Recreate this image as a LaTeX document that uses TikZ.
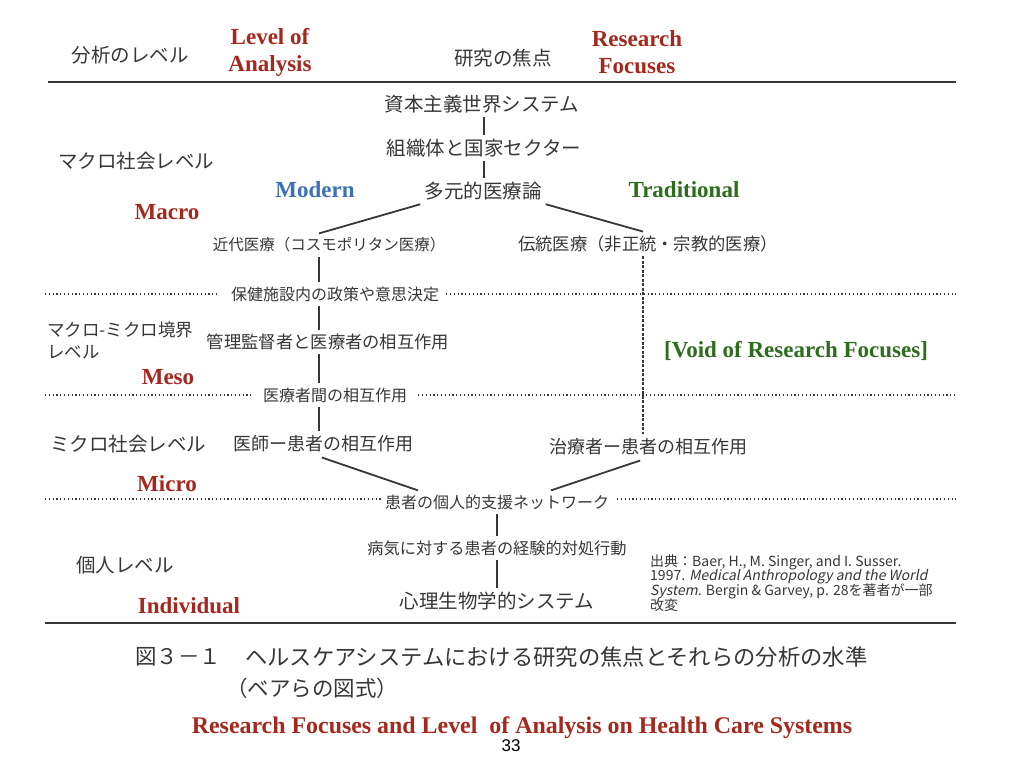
\documentclass[tikz,border=0pt]{standalone}
\usepackage{fontspec}
\setmainfont{Liberation Serif}
\newfontfamily\jp{Noto Sans CJK JP}
\newfontfamily\jpit[FakeSlant=0.2]{Noto Sans CJK JP}
\newfontfamily\numfont{Liberation Sans}
\definecolor{redlab}{RGB}{165,40,30}
\definecolor{bluelab}{RGB}{60,112,184}
\definecolor{greenlab}{RGB}{46,108,30}
\definecolor{ink}{RGB}{55,55,55}
\begin{document}
\begin{tikzpicture}[x=1pt,y=-1pt,
  jpbig/.style={font=\jp\fontsize{19.5}{22}\selectfont, text=ink, inner xsep=4pt, inner ysep=4pt},
  jpsmall/.style={font=\jp\fontsize{#1}{18}\selectfont, text=ink, inner xsep=4pt, inner ysep=4pt},
  jplevel/.style={font=\jp\fontsize{19.5}{22}\selectfont, text=ink, inner sep=0pt},
  enlab/.style={font=\bfseries\fontsize{23}{27}\selectfont, inner sep=0pt, align=center},
  conn/.style={draw=ink, line width=1.8pt},
  dconn/.style={draw=ink, line width=1.4pt, dash pattern=on 3pt off 1.5pt},
  dotl/.style={draw=ink, line width=1.5pt, dash pattern=on 1.2pt off 2.6pt},
  rule/.style={draw=ink, line width=2pt},
  cite/.style={font=\jp\fontsize{14}{15}\selectfont, text=ink, inner sep=0pt, anchor=west}
]
\useasboundingbox[fill=white] (0,0) rectangle (1024,768);

% reference coordinates
\coordinate (tx) at (484,0);
\coordinate (cx) at (319,0);
\coordinate (dx) at (643,0);
\coordinate (lft) at (45,0);
\coordinate (rgt) at (956,0);

% header
\node[jplevel] (hdA) at (130,55) {分析のレベル};
\node[enlab, text=redlab] (hdAe) at (270,52) {Level of\\Analysis};
\node[jplevel] (hdR) at (503,58) {研究の焦点};
\node[enlab, text=redlab] (hdRe) at (637,52) {Research\\Focuses};
\coordinate (r1a) at (48,82);
\coordinate (r1b) at (956,82);
\draw[rule] (r1a) -- (r1b);

% research focus nodes
\node[jpbig] (shihon) at (482,104) {資本主義世界システム};
\node[jpbig] (soshiki) at (484,148) {組織体と国家セクター};
\node[jpbig] (tagen) at (483,191) {多元的医療論};
\node[jpsmall=15.5] (kindai) at (329,245) {近代医療（コスモポリタン医療）};
\node[jpsmall=17.3] (dento) at (648,244) {伝統医療（非正統・宗教的医療）};
\node[jpsmall=16] (hoken) at (335,294) {保健施設内の政策や意思決定};
\node[jpsmall=17.3] (kanri) at (328,342) {管理監督者と医療者の相互作用};
\node[jpsmall=16] (iryosha) at (335,395) {医療者間の相互作用};
\node[jpsmall=18] (ishi) at (323,444) {医師ー患者の相互作用};
\node[jpsmall=18] (chiryo) at (648,447) {治療者ー患者の相互作用};
\node[jpsmall=16] (kanja) at (497,502) {患者の個人的支援ネットワーク};
\node[jpsmall=16.2] (byouki) at (497,548) {病気に対する患者の経験的対処行動};
\node[jpbig] (shinri) at (497,601) {心理生物学的システム};

% level labels
\node[jplevel] (macroJ) at (136,161) {マクロ社会レベル};
\node[enlab, text=redlab] (macroE) at (167,212) {Macro};
\node[font=\jp\fontsize{17.5}{22}\selectfont, text=ink, inner sep=0pt, anchor=north west, align=left] (mesoJ) at (47,322) {マクロ-ミクロ境界\\レベル};
\node[enlab, text=redlab] (mesoE) at (168,377) {Meso};
\node[jplevel] (microJ) at (128,444) {ミクロ社会レベル};
\node[enlab, text=redlab] (microE) at (167,484) {Micro};
\node[jplevel] (indivJ) at (125,565) {個人レベル};
\node[enlab, text=redlab] (indivE) at (189,606) {Individual};

% English annotations
\node[enlab, text=bluelab] (modern) at (315,190) {Modern};
\node[enlab, text=greenlab] (trad) at (684,190) {Traditional};
\node[enlab, text=greenlab] (void) at (796,351) {[Void of Research Focuses]};

% connectors
\draw[conn] (shihon.south -| tx) -- (soshiki.north -| tx);
\draw[conn] (soshiki.south -| tx) -- (tagen.north -| tx);
\draw[conn] (tagen.south west) -- (kindai.north -| cx);
\draw[conn] (tagen.south east) -- (dento.north -| dx);
\draw[conn] (kindai.south -| cx) -- (hoken.north -| cx);
\draw[conn] (hoken.south -| cx) -- (kanri.north -| cx);
\draw[conn] (kanri.south -| cx) -- (iryosha.north -| cx);
\draw[conn] (iryosha.south -| cx) -- (ishi.north -| cx);
\draw[dconn] (dento.south -| dx) -- (chiryo.north -| dx);
\draw[conn, shorten <=3pt] (ishi.south -| cx) -- ([xshift=-79pt]kanja.north);
\draw[conn, shorten <=3pt] (chiryo.south -| dx) -- ([xshift=54pt]kanja.north);
\draw[conn] (kanja.south) -- (byouki.north);
\draw[conn] (byouki.south) -- (shinri.north);

% dotted level boundaries
\draw[dotl, shorten >=10pt] (hoken.west -| lft) -- (hoken.west);
\draw[dotl, shorten <=3pt] (hoken.east) -- (hoken.east -| rgt);
\draw[dotl, shorten >=7pt] (iryosha.west -| lft) -- (iryosha.west);
\draw[dotl, shorten <=7pt] (iryosha.east) -- (iryosha.east -| rgt);
\draw[dotl] ([yshift=3pt]kanja.west -| lft) -- ([yshift=3pt]kanja.west);
\draw[dotl, shorten <=4pt] ([yshift=3pt]kanja.east) -- ([yshift=3pt]kanja.east -| rgt);

% citation
\node[cite] (c1) at (650,562) {出典：Baer, H., M. Singer, and I. Susser.};
\node[cite] (c2) at (650,576.5) {1997. {\jpit Medical Anthropology and the World}};
\node[cite] (c3) at (650,591) {{\jpit System}. Bergin \& Garvey, p. 28を著者が一部};
\node[cite] (c4) at (650,605.5) {改変};

% bottom rule
\coordinate (r2a) at (45,623);
\coordinate (r2b) at (956,623);
\draw[rule] (r2a) -- (r2b);

% caption
\node[font=\jp\fontsize{21.5}{24}\selectfont, text=ink, inner sep=0pt, anchor=west] (cap1) at (135,657) {図３－１};
\node[font=\jp\fontsize{22.3}{24}\selectfont, text=ink, inner sep=0pt, anchor=west] (cap2) at (245,657) {ヘルスケアシステムにおける研究の焦点とそれらの分析の水準};
\node[font=\jp\fontsize{21.5}{24}\selectfont, text=ink, inner sep=0pt] (cap3) at (312,688) {（ベアらの図式）};

\node[enlab, text=redlab, font=\bfseries\fontsize{23.9}{27}\selectfont] (title) at (522,728) {Research Focuses and Level\ \ of Analysis on Health Care Systems};
\node[font=\numfont\fontsize{17}{20}\selectfont, inner sep=0pt] (pg) at (511,746) {33};
\end{tikzpicture}
\end{document}
